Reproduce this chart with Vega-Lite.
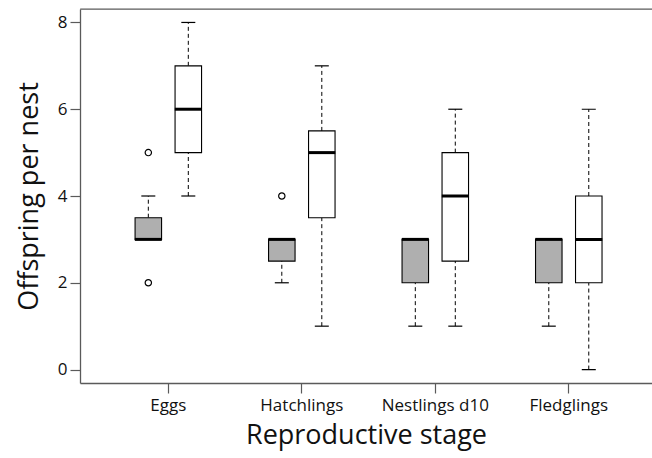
{
  "$schema": "https://vega.github.io/schema/vega-lite/v6.json",
  "width": 572,
  "height": 374,
  "autosize": "none",
  "padding": {"left": 80, "top": 9, "right": 0, "bottom": 75},
  "background": "white",
  "config": {
    "view": {"stroke": "#5a5a5a", "strokeWidth": 1.3, "strokeDash": [572, 2000]},
    "font": "Open Sans",
    "axisBand": {"ticks": true, "tickBand": "center", "tickOpacity": 1},
    "axis": {"grid": false, "domainColor": "#5a5a5a", "domainWidth": 1.3, "tickColor": "#5a5a5a", "tickWidth": 1.2, "labelColor": "#111", "titleColor": "#111", "titleFontWeight": "normal"}
  },
  "datasets": {
    "boxes": [
      {"stage": "Eggs", "group": "Group 1", "lower": 3, "q1": 3, "median": 3, "q3": 3.5, "upper": 4},
      {"stage": "Eggs", "group": "Group 2", "lower": 4, "q1": 5, "median": 6, "q3": 7, "upper": 8},
      {"stage": "Hatchlings", "group": "Group 1", "lower": 2, "q1": 2.5, "median": 3, "q3": 3, "upper": 3},
      {"stage": "Hatchlings", "group": "Group 2", "lower": 1, "q1": 3.5, "median": 5, "q3": 5.5, "upper": 7},
      {"stage": "Nestlings d10", "group": "Group 1", "lower": 1, "q1": 2, "median": 3, "q3": 3, "upper": 3},
      {"stage": "Nestlings d10", "group": "Group 2", "lower": 1, "q1": 2.5, "median": 4, "q3": 5, "upper": 6},
      {"stage": "Fledglings", "group": "Group 1", "lower": 1, "q1": 2, "median": 3, "q3": 3, "upper": 3},
      {"stage": "Fledglings", "group": "Group 2", "lower": 0, "q1": 2, "median": 3, "q3": 4, "upper": 6}
    ],
    "outliers": [
      {"stage": "Eggs", "group": "Group 1", "value": 5},
      {"stage": "Eggs", "group": "Group 1", "value": 2},
      {"stage": "Hatchlings", "group": "Group 1", "value": 4}
    ]
  },
  "encoding": {
    "x": {
      "field": "stage", "type": "nominal",
      "sort": ["Eggs", "Hatchlings", "Nestlings d10", "Fledglings"],
      "scale": {"type": "band", "domain": ["Eggs", "Hatchlings", "Nestlings d10", "Fledglings"], "paddingInner": 0, "paddingOuter": 0.1425, "align": 0.567},
      "axis": {"orient": "bottom", "title": "Reproductive stage", "titleFontSize": 27, "titlePadding": 9, "labelFontSize": 17, "labelAngle": 0, "labelPadding": 4, "ticks": true, "tickBand": "center", "tickOpacity": 1, "tickColor": "#5a5a5a", "tickWidth": 1.2, "tickSize": 10, "domain": true}
    },
    "xOffset": {
      "field": "group", "type": "nominal",
      "scale": {"domain": ["Group 1", "Group 2"], "paddingInner": 0, "paddingOuter": 0.669}
    }
  },
  "layer": [
    {
      "data": {"name": "boxes"},
      "mark": {"type": "rule", "color": "black", "strokeWidth": 1, "strokeDash": [4, 3]},
      "encoding": {
        "y": {
          "field": "lower", "type": "quantitative",
          "scale": {"domain": [-0.31, 8.31], "nice": false, "zero": false},
          "axis": {"title": "Offspring per nest", "titleFontSize": 27, "titlePadding": 14, "values": [0, 2, 4, 6, 8], "labelFontSize": 17, "labelPadding": 3, "tickSize": 10, "ticks": true}
        },
        "y2": {"field": "q1"}
      }
    },
    {
      "data": {"name": "boxes"},
      "mark": {"type": "rule", "color": "black", "strokeWidth": 1, "strokeDash": [4, 3]},
      "encoding": {
        "y": {"field": "q3", "type": "quantitative"},
        "y2": {"field": "upper"}
      }
    },
    {
      "data": {"name": "boxes"},
      "mark": {"type": "bar", "width": 26.5, "stroke": "black", "strokeWidth": 1.1},
      "encoding": {
        "y": {"field": "q1", "type": "quantitative"},
        "y2": {"field": "q3"},
        "fill": {"field": "group", "type": "nominal", "scale": {"domain": ["Group 1", "Group 2"], "range": ["#afafaf", "#ffffff"]}, "legend": null}
      }
    },
    {
      "data": {"name": "boxes"},
      "mark": {"type": "tick", "color": "black", "size": 27, "thickness": 3, "opacity": 1},
      "encoding": {"y": {"field": "median", "type": "quantitative"}}
    },
    {
      "data": {"name": "boxes"},
      "mark": {"type": "tick", "color": "black", "size": 14, "thickness": 1.2, "opacity": 1},
      "encoding": {"y": {"field": "lower", "type": "quantitative"}}
    },
    {
      "data": {"name": "boxes"},
      "mark": {"type": "tick", "color": "black", "size": 14, "thickness": 1.2, "opacity": 1},
      "encoding": {"y": {"field": "upper", "type": "quantitative"}}
    },
    {
      "data": {"name": "outliers"},
      "mark": {"type": "point", "shape": "circle", "filled": false, "color": "black", "strokeWidth": 1.2, "size": 40, "opacity": 1},
      "encoding": {"y": {"field": "value", "type": "quantitative"}}
    }
  ]
}
